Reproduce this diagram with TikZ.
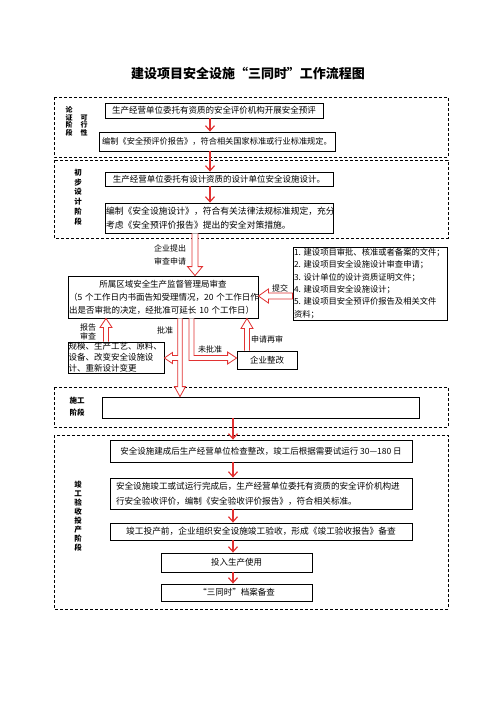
\documentclass[tikz,border=0pt]{standalone}
\usepackage{fontspec}
\setmainfont{Noto Sans CJK SC}
\usetikzlibrary{arrows.meta,calc}
\definecolor{ared}{RGB}{225,50,50}
\newcommand\bodyfs{\fontsize{8.5}{10}\selectfont}
\begin{document}
\begin{tikzpicture}[x=1pt,y=-1pt,
 box/.style={draw=black,line width=0.8pt,inner sep=0pt,font=\bodyfs,align=center},
 stage/.style={draw=black,line width=0.9pt,dash pattern=on 3pt off 2pt},
 tarrow/.style={draw=ared,line width=1.2pt,-{Straight Barb[length=5pt,width=9pt]}},
 harrow/.style={draw=ared,line width=0.8pt,fill=white,line join=miter},
 lab/.style={inner sep=0pt,align=center},
 note/.style={inner sep=0pt,align=center,font=\fontsize{8}{13}\selectfont}]
\useasboundingbox (0,0) rectangle (496,702);

% title
\node[inner sep=0pt,font=\fontsize{13}{15}\selectfont\bfseries] (title) at (248,74) {建设项目安全设施“三同时”工作流程图};

% stage frames
\draw[stage] (54,97) rectangle (448,157);
\draw[stage] (54,160) rectangle (448,238);
\draw[stage] (54,387) rectangle (448,427);
\draw[stage] (54,435) rectangle (448,609);

% stage labels
\node[lab,font=\fontsize{7}{7.6}\selectfont\bfseries] (l1) at (69,121.5) {论\\证\\阶\\段};
\node[lab,font=\fontsize{7}{7.6}\selectfont\bfseries] (l2) at (84,125.5) {可\\行\\性};
\node[lab,font=\fontsize{7.5}{9.8}\selectfont\bfseries] (l3) at (78,197) {初\\步\\设\\计\\阶\\段};
\node[lab,font=\fontsize{7.5}{12}\selectfont\bfseries] (l4) at (77,407) {施工\\阶段};
\node[lab,font=\fontsize{7.5}{9}\selectfont\bfseries] (l5) at (78,516) {竣\\工\\验\\收\\投\\产\\阶\\段};

% boxes
\node[box,minimum width=218pt,minimum height=15pt] (A) at (214,110.5) {生产经营单位委托有资质的安全评价机构开展安全预评};
\node[box,minimum width=236pt,minimum height=19pt,font=\fontsize{8.2}{10}\selectfont] (B) at (217,141.5) {编制《安全预评价报告》，符合相关国家标准或行业标准规定。};
\node[box,minimum width=228pt,minimum height=14pt] (C) at (219,179) {生产经营单位委托有设计资质的设计单位安全设施设计。};
\node[box,minimum width=228pt,minimum height=30pt,text width=226pt,align=left,font=\fontsize{8.8}{14}\selectfont] (D) at (219,218) {编制《安全设施设计》，符合有关法律法规标准规定，充分\\考虑《安全预评价报告》提出的安全对策措施。};
\node[box,minimum width=190pt,minimum height=42pt,text width=188pt,align=left,font=\fontsize{8.5}{13}\selectfont] (E) at (163,297) {\makebox[188pt][c]{所属区域安全生产监督管理局审查}\\（5~个工作日内书面告知受理情况，20~个工作日作\\出是否审批的决定，经批准可延长~10~个工作日）};
\node[box,minimum width=154pt,minimum height=73pt,text width=152pt,align=left,font=\fontsize{8.3}{12.3}\selectfont] (F) at (370,283.5) {1.~建设项目审批、核准或者备案的文件；\\2.~建设项目安全设施设计审查申请；\\3.~设计单位的设计资质证明文件；\\4.~建设项目安全设施设计；\\5.~建设项目安全预评价报告及相关文件\\资料；};
\node[box,minimum width=96pt,minimum height=31pt,text width=95pt,align=left,font=\fontsize{8.5}{11}\selectfont] (G) at (116,357.5) {规模、生产工艺、原料、\\设备、改变安全设施设\\计、重新设计变更};
\node[box,minimum width=60pt,minimum height=18pt] (H) at (267,360) {企业整改};
\node[box,minimum width=317pt,minimum height=21pt] (I) at (260.5,407.5) {};
\node[box,minimum width=302pt,minimum height=22pt] (J) at (261,451) {安全设施建成后生产经营单位检查整改，竣工后根据需要试运行~30—180~日};
\node[box,minimum width=302pt,minimum height=31pt,text width=290pt,align=left,font=\fontsize{8.6}{15}\selectfont] (K) at (261,493.5) {安全设施竣工或试运行完成后，生产经营单位委托有资质的安全评价机构进\\行安全验收评价，编制《安全验收评价报告》，符合相关标准。};
\node[box,minimum width=302pt,minimum height=17pt,font=\fontsize{8.7}{10}\selectfont] (L) at (261,531.5) {竣工投产前，企业组织安全设施竣工验收，形成《竣工验收报告》备查};
\node[box,minimum width=151pt,minimum height=19pt] (M) at (236.5,562.5) {投入生产使用};
\node[box,minimum width=151pt,minimum height=17pt] (N) at (236.5,592.5) {“三同时”档案备查};

% notes
\node[note] (n1) at (170,254.5) {企业提出\\审查申请};
\node[note] (n2) at (280,288) {提交};
\node[note,font=\fontsize{8}{9.5}\selectfont] (n3) at (88,332) {报告\\审查};
\node[note] (n4) at (165,330.5) {批准};
\node[note] (n5) at (210,349) {未批准};
\node[note] (n6) at (267,339.5) {申请再审};

% helper coordinates
\coordinate (ax) at (210,0);
\coordinate (bx) at (233,0);
\coordinate (hx) at (195,0);
\coordinate (hy) at (0,296);
\coordinate (gx) at (106,0);
\coordinate (rx) at (247,0);
\coordinate (vx) at (180,0);
\coordinate (by) at (0,358);
\coordinate (wx) at (191.5,0);

% thin arrows
\draw[tarrow] (A.south -| ax) -- (B.north -| ax);
\draw[tarrow] (B.south -| ax) -- (C.north -| ax);
\draw[tarrow] (C.south -| ax) -- (D.north -| ax);
\draw[tarrow] (I.south -| bx) -- (J.north -| bx);
\draw[tarrow] (J.south -| bx) -- (K.north -| bx);
\draw[tarrow] (K.south -| bx) -- (L.north -| bx);
\draw[tarrow] (L.south -| bx) -- (M.north -| bx);
\draw[tarrow] (M.south -| bx) -- (N.north -| bx);

% hollow arrows
\draw[harrow] let \p1=(D.south -| hx), \p2=(E.north -| hx) in
 (\x1-3pt,\y1) -- (\x1-3pt,\y2+9pt) -- (\x1-7.5pt,\y2+9pt) -- (\p2) -- (\x1+7.5pt,\y2+9pt) -- (\x1+3pt,\y2+9pt) -- (\x1+3pt,\y1);
\draw[harrow] let \p1=(F.west |- hy), \p2=(E.east |- hy) in
 (\x1,\y1+3pt) -- (\x2+10pt,\y1+3pt) -- (\x2+10pt,\y1+7pt) -- (\p2) -- (\x2+10pt,\y1-7pt) -- (\x2+10pt,\y1-3pt) -- (\x1,\y1-3pt) -- cycle;
\draw[harrow] let \p1=(G.north -| gx), \p2=(E.south -| gx) in
 (\x1-2.5pt,\y1) -- (\x1-2.5pt,\y2-9pt) -- (\x1-6pt,\y2-9pt) -- (\p2) -- (\x1+6pt,\y2-9pt) -- (\x1+2.5pt,\y2-9pt) -- (\x1+2.5pt,\y1);
\draw[harrow] let \p1=(H.north -| rx), \p2=(E.south -| rx) in
 (\x1-2.5pt,\y1) -- (\x1-2.5pt,\y2-10pt) -- (\x1-6pt,\y2-10pt) -- (\p2) -- (\x1+6pt,\y2-10pt) -- (\x1+2.5pt,\y2-10pt) -- (\x1+2.5pt,\y1);
% approved: down to construction, branch to G
\draw[harrow] let \p1=(E.south -| vx), \p2=(I.north -| vx), \p3=(G.east |- by) in
 (\x1-2.3pt,\y1) -- (\x1-2.3pt,\y3+2.5pt) -- (\x3+8pt,\y3+2.5pt) -- (\x3+8pt,\y3+5.5pt) -- (\p3)
 -- (\x3+8pt,\y3-5.5pt) -- (\x3+8pt,\y3-2.5pt) -- (\x1-2.3pt,\y3-2.5pt) -- (\x1-2.3pt,\y2+10pt)
 -- (\x1-5.5pt,\y2+10pt) -- (\p2) -- (\x1+5.5pt,\y2+10pt) -- (\x1+2.3pt,\y2+10pt) -- (\x1+2.3pt,\y1);
% not approved: to rectification
\draw[harrow] let \p1=(E.south -| wx), \p2=(H.west |- by) in
 (\x1-2.5pt,\y1) -- (\x1-2.5pt,\y2-2.5pt) -- (\x2-9pt,\y2-2.5pt) -- (\x2-9pt,\y2-6pt) -- (\p2)
 -- (\x2-9pt,\y2+6pt) -- (\x2-9pt,\y2+2.5pt) -- (\x1+2.5pt,\y2+2.5pt) -- (\x1+2.5pt,\y1);
\end{tikzpicture}
\end{document}
